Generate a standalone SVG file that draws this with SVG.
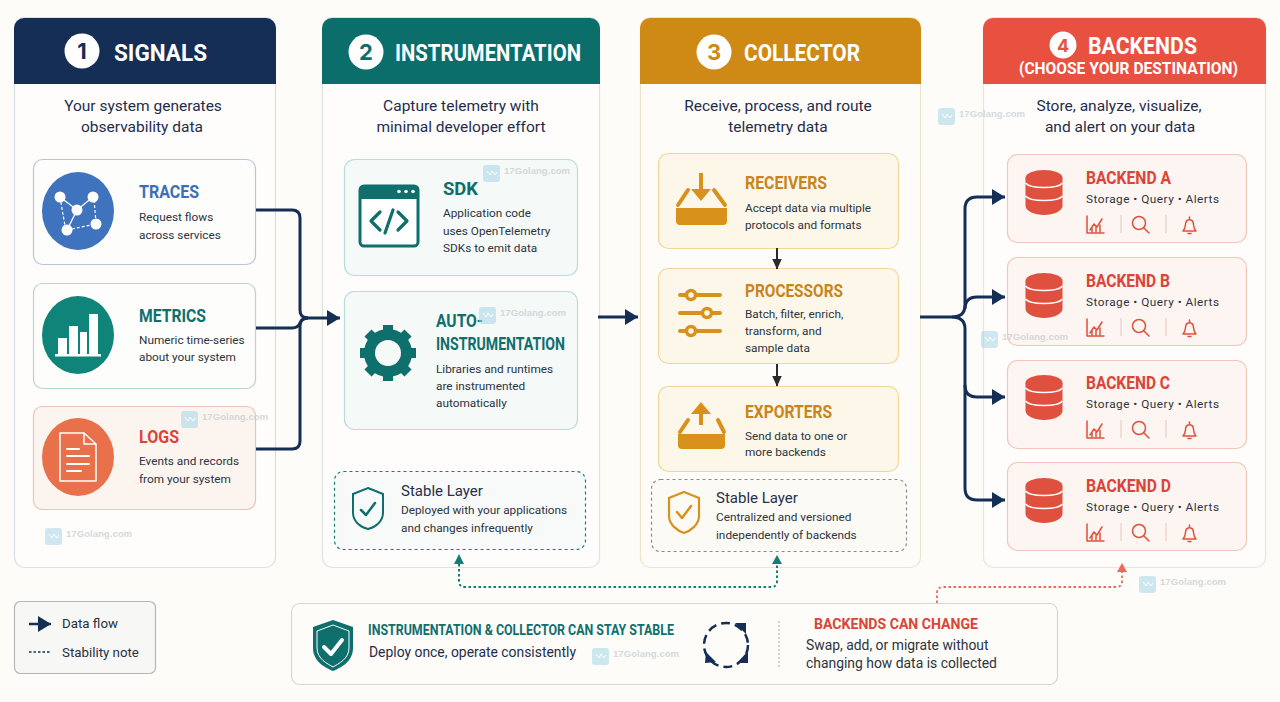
<svg xmlns="http://www.w3.org/2000/svg" width="1280" height="702" viewBox="0 0 1280 702">
<style>
text{font-family:"Roboto","Noto Sans","Liberation Sans",sans-serif;fill:#27303f}
.hd{font-weight:700;fill:#fff;font-size:24px}
.num{font-family:"Inter","Liberation Sans",sans-serif;font-weight:700;font-size:22px;text-anchor:middle}
.sub{font-size:15.500px;fill:#1f2d4d;text-anchor:middle}
.t{font-weight:700;font-size:18px}
.d{font-size:11.800px;fill:#2c3440}
.s{font-size:15px;fill:#25304a}
.b{font-size:13.900px;fill:#2c3440}
.blue{fill:#3b6fb8}.teal{fill:#0f6f6c}.or{fill:#c9851b}.red{fill:#dc4437}
.wm{font-family:"Liberation Sans",sans-serif;font-weight:700;font-size:9.600px;fill:#c3cdd2;opacity:.7}
.panel{stroke-width:1.2}
.conn{fill:none;stroke:#142e55;stroke-width:3}
.vi{fill:none;stroke:#e0503f;stroke-width:1.5;stroke-linecap:round;stroke-linejoin:round}
.w{fill:none;stroke:#fff;stroke-linecap:round;stroke-linejoin:round}
</style>
<defs>
<marker id="ah" markerUnits="userSpaceOnUse" markerWidth="14" markerHeight="16" refX="13" refY="8" orient="auto"><path d="M0 0L13 8L0 16z" fill="#142e55"/></marker>
<marker id="ak" markerUnits="userSpaceOnUse" markerWidth="11" markerHeight="10" refX="10.500" refY="5" orient="auto"><path d="M0 0L11 5L0 10z" fill="#2b2b2b"/></marker>
<g id="db"><ellipse cx="0" cy="-14" rx="18.500" ry="8" fill="#e0503f"/><path d="M-18.500-14V14C-18.500 19-9 23 0 23S18.500 19 18.500 14V-14z" fill="#e0503f"/><path d="M-18.500-9C-14-3 14-3 18.500-9M-18.500 4C-14 10 14 10 18.500 4" fill="none" stroke="#fff" stroke-width="1.500"/></g>
<g id="vis">
<path class="vi" d="M0 0V17H17M3 14L7 8L10 11L15 3"/><path class="vi" d="M5 16V12M9 16V11M13 16V9"/><path d="M34 -1V17M79 -1V17" stroke="#e8cfc7" stroke-width="1.200"/>
<circle class="vi" cx="52" cy="7" r="6.500"/><path class="vi" d="M57 12L62 17"/>
<path class="vi" d="M96 15H109C106 12 107 9 106 6C105 3 100 3 99 6C98 9 99 12 96 15ZM101 17.500H104M102.500 1V3"/></g>
<g id="wmk"><rect width="17" height="17" rx="3" fill="#a5d6e8" opacity=".55"/><path d="M4 6L7 10L9 6L12 10L14 7" fill="none" stroke="#fff" stroke-width="1"/><text class="wm" x="21" y="9">17Golang.com</text></g>
</defs>
<rect width="1280" height="702" fill="#fdfcf8"/>

<g id="col-signals">
<rect class="panel" x="14.500" y="17.500" width="261" height="550" rx="10" fill="#fefdfb" stroke="#dcdfe2"/>
<path d="M14 84V28A10 10 0 0 1 24 18H266A10 10 0 0 1 276 28V84z" fill="#142e55"/>
<circle cx="82" cy="51" r="17.500" fill="#fff"/><text class="num" x="82" y="59" style="fill:#142e55">1</text>
<text class="hd" x="114" y="61" textLength="93" lengthAdjust="spacingAndGlyphs">SIGNALS</text>
<text class="sub" x="143" y="111">Your system generates</text><text class="sub" x="142" y="132">observability data</text>
</g>
<g id="node-traces">
<rect x="33.500" y="159.500" width="222" height="105" rx="9" fill="#fdfdfb" stroke="#b6c5db" stroke-width="1.200"/>
<ellipse cx="78" cy="211" rx="36" ry="39" fill="#3f73bd"/>
<path d="M60 197L77 210L93 197M77 210L67 230" stroke="#fff" stroke-width="1.300" fill="none"/>
<path d="M67 230L96 224M60 197L65 226M94 200L96 222" stroke="#fff" stroke-width="1.200" stroke-dasharray="3 2" fill="none"/>
<g fill="#fff"><circle cx="60" cy="197" r="5.500"/><circle cx="93" cy="197" r="5.500"/><circle cx="77" cy="210" r="5.500"/><circle cx="67" cy="230" r="5.500"/><circle cx="96" cy="224" r="5.500"/></g>
<text class="t blue" x="139" y="198" textLength="60" lengthAdjust="spacingAndGlyphs">TRACES</text>
<text class="d" x="139" y="221">Request flows</text><text class="d" x="139" y="239">across services</text>
</g>
<g id="node-metrics">
<rect x="33.500" y="283.500" width="222" height="105" rx="9" fill="#fdfdfb" stroke="#b5d6d3" stroke-width="1.200"/>
<ellipse cx="78" cy="335" rx="36" ry="39" fill="#0f8478"/>
<g fill="#fff"><rect x="58" y="338" width="9" height="17"/><rect x="69" y="326" width="9" height="29"/><rect x="80" y="332" width="7" height="23"/><rect x="89" y="314" width="9" height="41"/><rect x="55" y="354" width="46" height="2.500"/></g>
<text class="t teal" x="139" y="322" textLength="67" lengthAdjust="spacingAndGlyphs">METRICS</text>
<text class="d" x="139" y="344">Numeric time-series</text><text class="d" x="139" y="361">about your system</text>
</g>
<g id="node-logs">
<rect x="33.500" y="406.500" width="222" height="103" rx="9" fill="#fcf4ef" stroke="#ecc3b5" stroke-width="1.200"/>
<ellipse cx="78" cy="457" rx="36" ry="39" fill="#e8704a"/>
<path class="w" stroke-width="1.500" d="M60 433H84L96 444V481H60zM84 433V444H96"/>
<path class="w" stroke-width="2" d="M67 449H79M67 456H89M67 464H89M67 471H81"/>
<text class="t red" x="139" y="443" textLength="40" lengthAdjust="spacingAndGlyphs">LOGS</text>
<text class="d" x="139" y="465">Events and records</text><text class="d" x="139" y="483">from your system</text>
</g>

<g id="col-instrumentation">
<rect class="panel" x="322.500" y="17.500" width="277" height="550" rx="10" fill="#fefdfb" stroke="#dde3e2"/>
<path d="M322 84V28A10 10 0 0 1 332 18H590A10 10 0 0 1 600 28V84z" fill="#0b6e6b"/>
<circle cx="366" cy="52" r="17.500" fill="#fff"/><text class="num" x="366" y="60" style="fill:#0b6e6b">2</text>
<text class="hd" x="395" y="61" textLength="186" lengthAdjust="spacingAndGlyphs">INSTRUMENTATION</text>
<text class="sub" x="461" y="111">Capture telemetry with</text><text class="sub" x="461" y="132">minimal developer effort</text>
</g>
<g id="node-sdk">
<rect x="344.500" y="159.500" width="233" height="116" rx="10" fill="#f5f9f8" stroke="#b9dcd8" stroke-width="1.200"/>
<rect x="360" y="186" width="58" height="60" rx="4" fill="#fff" stroke="#0f6f6c" stroke-width="3"/>
<path d="M360 199V190A4 4 0 0 1 364 186H414A4 4 0 0 1 418 190V199z" fill="#0f6f6c"/>
<g fill="#fff"><circle cx="399" cy="191.500" r="1.800"/><circle cx="406" cy="191.500" r="1.800"/><circle cx="413" cy="191.500" r="1.800"/></g>
<path d="M380 212L371 221L380 230M398 212L407 221L398 230M393 210L385 233" fill="none" stroke="#0f6f6c" stroke-width="3.200" stroke-linecap="round" stroke-linejoin="round"/>
<text class="t teal" x="443" y="195" textLength="35" lengthAdjust="spacingAndGlyphs">SDK</text>
<text class="d" x="443" y="217">Application code</text><text class="d" x="443" y="235">uses OpenTelemetry</text><text class="d" x="443" y="252">SDKs to emit data</text>
</g>
<g id="node-auto">
<rect x="344.500" y="291.500" width="233" height="138" rx="10" fill="#f5f9f8" stroke="#b9dcd8" stroke-width="1.200"/>
<circle cx="388" cy="353" r="18.500" fill="none" stroke="#0f6f6c" stroke-width="11"/>
<g stroke="#0f6f6c" stroke-width="10"><path d="M388 325V335M388 371V381M360 353H370M406 353H416M368 333L375 340M401 366L408 373M408 333L401 340M375 366L368 373"/></g>
<text class="t teal" x="436" y="327" textLength="47" lengthAdjust="spacingAndGlyphs">AUTO-</text>
<text class="t teal" x="436" y="350" textLength="129" lengthAdjust="spacingAndGlyphs">INSTRUMENTATION</text>
<text class="d" x="436" y="373">Libraries and runtimes</text><text class="d" x="436" y="390">are instrumented</text><text class="d" x="436" y="407">automatically</text>
</g>
<g id="node-stable-inst">
<rect x="334.500" y="471.500" width="251" height="78" rx="9" fill="#f8faf9" stroke="#0f7f78" stroke-width="1.200" stroke-dasharray="3 3"/>
<path d="M368 488L383 494V513C383 522 374 528 368 529C362 528 353 522 353 513V494z" fill="none" stroke="#0f6f6c" stroke-width="2"/>
<path d="M361 510L366 515L375 503" fill="none" stroke="#0f6f6c" stroke-width="2.500" stroke-linecap="round" stroke-linejoin="round"/>
<text class="s" x="401" y="496">Stable Layer</text>
<text class="d" x="401" y="514">Deployed with your applications</text><text class="d" x="401" y="532">and changes infrequently</text>
</g>

<g id="col-collector">
<rect class="panel" x="640.500" y="17.500" width="280" height="550" rx="10" fill="#fefcf8" stroke="#f3e3c9"/>
<path d="M640 84V28A10 10 0 0 1 650 18H911A10 10 0 0 1 921 28V84z" fill="#cf8a16"/>
<circle cx="714" cy="52" r="17.500" fill="#fff"/><text class="num" x="714" y="60" style="fill:#cf8a16">3</text>
<text class="hd" x="744" y="61" textLength="116" lengthAdjust="spacingAndGlyphs">COLLECTOR</text>
<text class="sub" x="778" y="111">Receive, process, and route</text><text class="sub" x="778" y="132">telemetry data</text>
</g>
<g id="node-receivers">
<rect x="658.500" y="153.500" width="240" height="95" rx="10" fill="#fdf7e9" stroke="#f2d898" stroke-width="1.200"/>
<path d="M701 173V192" stroke="#d8921c" stroke-width="4"/><path d="M691 189H711L701 201z" fill="#d8921c"/>
<path d="M688 190L678 205M714 190L725 205" stroke="#d8921c" stroke-width="4" stroke-linecap="round"/>
<path d="M676 208H727V221A4 4 0 0 1 723 225H680A4 4 0 0 1 676 221z" fill="#d8921c"/>
<text class="t or" x="745" y="189" textLength="82" lengthAdjust="spacingAndGlyphs">RECEIVERS</text>
<text class="d" x="745" y="212">Accept data via multiple</text><text class="d" x="745" y="229">protocols and formats</text>
</g>
<g id="node-processors">
<rect x="658.500" y="268.500" width="240" height="95" rx="10" fill="#fdf7e9" stroke="#f2d898" stroke-width="1.200"/>
<path d="M680 295H720M680 313H720M680 331H720" stroke="#d8921c" stroke-width="4" stroke-linecap="round"/>
<g fill="#fdf7e9" stroke="#d8921c" stroke-width="3.500"><circle cx="691" cy="295" r="4.500"/><circle cx="707" cy="313" r="4.500"/><circle cx="691" cy="331" r="4.500"/></g>
<text class="t or" x="745" y="297" textLength="98" lengthAdjust="spacingAndGlyphs">PROCESSORS</text>
<text class="d" x="745" y="318">Batch, filter, enrich,</text><text class="d" x="745" y="335">transform, and</text><text class="d" x="745" y="352">sample data</text>
</g>
<g id="node-exporters">
<rect x="658.500" y="386.500" width="240" height="85" rx="10" fill="#fdf7e9" stroke="#f2d898" stroke-width="1.200"/>
<path d="M701 425V410" stroke="#d8921c" stroke-width="4"/><path d="M691 414H711L701 402z" fill="#d8921c"/>
<path d="M688 420L680 432M718 420L724 432" stroke="#d8921c" stroke-width="4" stroke-linecap="round"/>
<path d="M678 434H725V445A4 4 0 0 1 721 449H682A4 4 0 0 1 678 445z" fill="#d8921c"/>
<text class="t or" x="745" y="418" textLength="87" lengthAdjust="spacingAndGlyphs">EXPORTERS</text>
<text class="d" x="745" y="440">Send data to one or</text><text class="d" x="745" y="456">more backends</text>
</g>
<g id="node-stable-coll">
<rect x="651.500" y="479.500" width="255" height="72" rx="9" fill="#fcfaf5" stroke="#8a8a8a" stroke-width="1.200" stroke-dasharray="3 3"/>
<path d="M684 492L699 498V516C699 525 690 531 684 533C678 531 669 525 669 516V498z" fill="none" stroke="#d8921c" stroke-width="2.200"/>
<path d="M677 512L682 518L691 506" fill="none" stroke="#d8921c" stroke-width="2.500" stroke-linecap="round" stroke-linejoin="round"/>
<text class="s" x="716" y="503">Stable Layer</text>
<text class="d" x="716" y="521">Centralized and versioned</text><text class="d" x="716" y="539">independently of backends</text>
</g>

<g id="col-backends">
<rect class="panel" x="983.500" y="17.500" width="282" height="550" rx="10" fill="#fffdfb" stroke="#f5e0da"/>
<path d="M983 84V28A10 10 0 0 1 993 18H1256A10 10 0 0 1 1266 28V84z" fill="#e8503f"/>
<circle cx="1063" cy="45" r="13.500" fill="#fff"/><text class="num" x="1063" y="52" style="font-size:18px;fill:#e8503f">4</text>
<text class="hd" x="1088" y="54" textLength="109" lengthAdjust="spacingAndGlyphs">BACKENDS</text>
<text class="hd" x="1019" y="74" style="font-size:17px" textLength="219" lengthAdjust="spacingAndGlyphs">(CHOOSE YOUR DESTINATION)</text>
<text class="sub" x="1119" y="111">Store, analyze, visualize,</text><text class="sub" x="1120" y="132">and alert on your data</text>
</g>
<g id="node-backend-a">
<rect x="1007.500" y="154.500" width="239" height="88" rx="10" fill="#fdf5f1" stroke="#f2c6ba" stroke-width="1.200"/>
<use href="#db" x="1044" y="192"/>
<text class="t red" x="1086" y="184" textLength="85" lengthAdjust="spacingAndGlyphs">BACKEND A</text>
<text class="d" x="1086" y="203" textLength="133" lengthAdjust="spacing">Storage • Query • Alerts</text>
<use href="#vis" x="1087" y="216"/>
</g>
<g id="node-backend-b">
<rect x="1007.500" y="257.500" width="239" height="88" rx="10" fill="#fdf5f1" stroke="#f2c6ba" stroke-width="1.200"/>
<use href="#db" x="1044" y="295"/>
<text class="t red" x="1086" y="287" textLength="84" lengthAdjust="spacingAndGlyphs">BACKEND B</text>
<text class="d" x="1086" y="306" textLength="133" lengthAdjust="spacing">Storage • Query • Alerts</text>
<use href="#vis" x="1087" y="319"/>
</g>
<g id="node-backend-c">
<rect x="1007.500" y="360.500" width="239" height="88" rx="10" fill="#fdf5f1" stroke="#f2c6ba" stroke-width="1.200"/>
<use href="#db" x="1044" y="397"/>
<text class="t red" x="1086" y="389" textLength="84" lengthAdjust="spacingAndGlyphs">BACKEND C</text>
<text class="d" x="1086" y="408" textLength="133" lengthAdjust="spacing">Storage • Query • Alerts</text>
<use href="#vis" x="1087" y="421"/>
</g>
<g id="node-backend-d">
<rect x="1007.500" y="462.500" width="239" height="88" rx="10" fill="#fdf5f1" stroke="#f2c6ba" stroke-width="1.200"/>
<use href="#db" x="1044" y="500"/>
<text class="t red" x="1086" y="492" textLength="85" lengthAdjust="spacingAndGlyphs">BACKEND D</text>
<text class="d" x="1086" y="511" textLength="133" lengthAdjust="spacing">Storage • Query • Alerts</text>
<use href="#vis" x="1087" y="524"/>
</g>

<g id="connectors">
<path class="conn" d="M256 210H292Q300 210 300 218V310Q300 318 308 318H340" marker-end="url(#ah)"/>
<path class="conn" d="M256 328H292Q298 328 300 323Q302 318 308 318"/>
<path class="conn" d="M256 449H292Q300 449 300 441V326Q300 318 308 318"/>
<path class="conn" d="M598 317H638" marker-end="url(#ah)"/>
<path d="M777 248V269" stroke="#2b2b2b" stroke-width="2" fill="none" marker-end="url(#ak)"/>
<path d="M777 364V386" stroke="#2b2b2b" stroke-width="2" fill="none" marker-end="url(#ak)"/>
<path class="conn" d="M920 317H952Q965 317 965 305V209Q965 197 977 197H1005" marker-end="url(#ah)"/>
<path class="conn" d="M965 309Q965 297 977 297H1005" marker-end="url(#ah)"/>
<path class="conn" d="M952 317Q965 317 965 329V488Q965 500 977 500H1005" marker-end="url(#ah)"/>
<path class="conn" d="M965 385Q965 397 977 397H1005" marker-end="url(#ah)"/>
<path d="M459 564V581Q459 587 465 587H771Q777 587 777 581V564" fill="none" stroke="#0f7f78" stroke-width="2" stroke-dasharray="2.500 2.500"/>
<path d="M459 554L464 564H454zM777 555L782 564H772z" fill="#0f7f78"/>
<path d="M937 603V593Q937 587 943 587H1116Q1122 587 1122 581V572" fill="none" stroke="#ea6a58" stroke-width="1.800" stroke-dasharray="2.500 2.500"/>
<path d="M1122 563L1127 572H1117z" fill="#ea6a58"/>
</g>

<g id="summary-bar">
<rect x="291.500" y="603.500" width="766" height="81" rx="8" fill="#fdfcf8" stroke="#d6d6d2" stroke-width="1.200"/>
<path d="M333 620L353 627V648C353 662 340 668 333 671C326 668 313 662 313 648V627z" fill="#0f6f6c"/>
<path d="M333 625L349 631V648C349 659 338 664 333 667C328 664 317 659 317 648V631z" fill="none" stroke="#fff" stroke-width="1"/>
<path d="M324 647L331 654L342 640" fill="none" stroke="#fff" stroke-width="4" stroke-linecap="round" stroke-linejoin="round"/>
<text class="t teal" x="368" y="635" style="font-size:14px" textLength="306" lengthAdjust="spacingAndGlyphs">INSTRUMENTATION &amp; COLLECTOR CAN STAY STABLE</text>
<text class="b" x="369" y="657" style="fill:#1f2d4d">Deploy once, operate consistently</text>
<circle cx="726" cy="645" r="22" fill="none" stroke="#142e55" stroke-width="2.500" stroke-dasharray="9 5"/>
<path d="M735 623L746 623L746 634zM748 651L748 663L737 663zM705 663L706 652L716 662z" fill="#142e55"/>
<path d="M779 621V669" stroke="#a9a9a9" stroke-dasharray="2 2"/>
<text class="t red" x="814" y="629" style="font-size:14px" textLength="164" lengthAdjust="spacingAndGlyphs">BACKENDS CAN CHANGE</text>
<text class="b" x="806" y="650">Swap, add, or migrate without</text>
<text class="b" x="806" y="668">changing how data is collected</text>
</g>
<g id="legend">
<rect x="14.500" y="601.500" width="141" height="72" rx="6" fill="#f7f7f6" stroke="#b4b6b8" stroke-width="1.200"/>
<path d="M29 624H51" stroke="#142e55" stroke-width="2.500" marker-end="url(#ah)"/>
<path d="M29 652H51" stroke="#142e55" stroke-width="1.500" stroke-dasharray="2.500 2"/>
<text x="62" y="628" style="font-size:13.300px">Data flow</text>
<text x="62" y="657" style="font-size:13.300px">Stability note</text>
</g>
<g id="watermarks">
<use href="#wmk" x="181" y="411"/><use href="#wmk" x="45" y="528"/><use href="#wmk" x="483" y="165"/><use href="#wmk" x="479" y="307"/><use href="#wmk" x="938" y="108"/><use href="#wmk" x="981" y="331"/><use href="#wmk" x="1139" y="576"/><use href="#wmk" x="592" y="648"/>
</g>
</svg>
